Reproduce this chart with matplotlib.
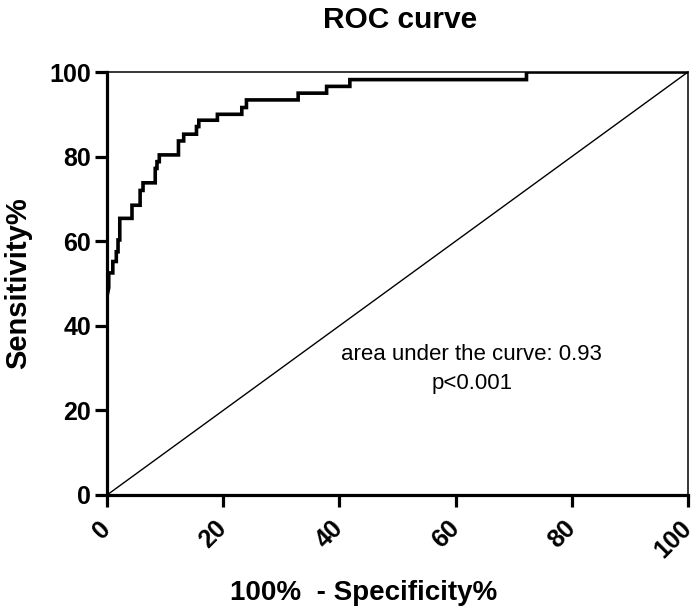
import matplotlib
matplotlib.use("Agg")
import matplotlib.pyplot as plt

plt.rcParams['font.family'] = ['Liberation Sans', 'DejaVu Sans']

# ROC curve vertices (100% - Specificity%, Sensitivity%)
fpr = [0, 0, 0.3, 0.3, 1.0, 1.0, 1.6, 1.6, 1.9, 1.9, 2.2, 2.2, 4.3, 4.3, 5.7, 5.7,
       6.2, 6.2, 8.3, 8.3, 8.6, 8.6, 9.0, 9.0, 12.3, 12.3, 13.2, 13.2, 15.4, 15.4,
       15.8, 15.8, 19.0, 19.0, 23.2, 23.2, 24.0, 24.0, 32.9, 32.9, 37.8, 37.8,
       41.8, 41.8, 72.2, 72.2, 100]
tpr = [0, 47, 49, 52.5, 52.5, 55.2, 55.2, 57.5, 57.5, 60.3, 60.3, 65.4, 65.4, 68.5, 68.5, 72,
       72, 73.8, 73.8, 77.2, 77.2, 78.8, 78.8, 80.4, 80.4, 83.7, 83.7, 85.3, 85.3, 87.1,
       87.1, 88.6, 88.6, 90.0, 90.0, 91.6, 91.6, 93.4, 93.4, 95.0, 95.0, 96.6,
       96.6, 98.2, 98.2, 100, 100]
ref_x = [0, 100]
ref_y = [0, 100]
ticks = [0, 20, 40, 60, 80, 100]
title = "ROC curve"
xlabel = "100%  - Specificity%"
ylabel = "Sensitivity%"
annot = "area under the curve: 0.93\np<0.001"

fig = plt.figure(figsize=(7, 6.15), dpi=100)
ax = fig.add_axes([107/700, 120/615, 581/700, 423/615])

ax.plot(ref_x, ref_y, color='black', lw=1.0, zorder=2)
ax.plot(fpr, tpr, color='black', lw=2.6, zorder=3, solid_joinstyle='miter')

ax.set_xlim(0, 100)
ax.set_ylim(0, 100)
ax.set_xticks(ticks)
ax.set_yticks(ticks)

for s in ['left', 'bottom']:
    ax.spines[s].set_linewidth(2.3)
for s in ['top', 'right']:
    ax.spines[s].set_linewidth(1.1)

ax.tick_params(axis='both', direction='out', length=8.5, width=2.3,
               labelsize=18, pad=3)
ax.tick_params(axis='x', pad=13)
for lab in ax.get_yticklabels():
    lab.set_fontweight('bold')
for lab in ax.get_xticklabels():
    lab.set_fontweight('bold')
    lab.set_rotation(45)
    lab.set_ha('right')
    lab.set_va('center')
    lab.set_rotation_mode('anchor')

ax.set_ylabel(ylabel, fontsize=21, fontweight='bold')
ax.yaxis.set_label_coords(-0.128, 0.5)
fig.text(364/700, 1 - 593/615, xlabel, fontsize=20, fontweight='bold',
         ha='center', va='center')
fig.text(400/700, 1 - 20/615, title, fontsize=21.5, fontweight='bold',
         ha='center', va='center')
ax.text(0.628, 0.298, annot, transform=ax.transAxes, fontsize=16,
        ha='center', va='center', linespacing=1.45)

fig.savefig("out.png", dpi=100)
